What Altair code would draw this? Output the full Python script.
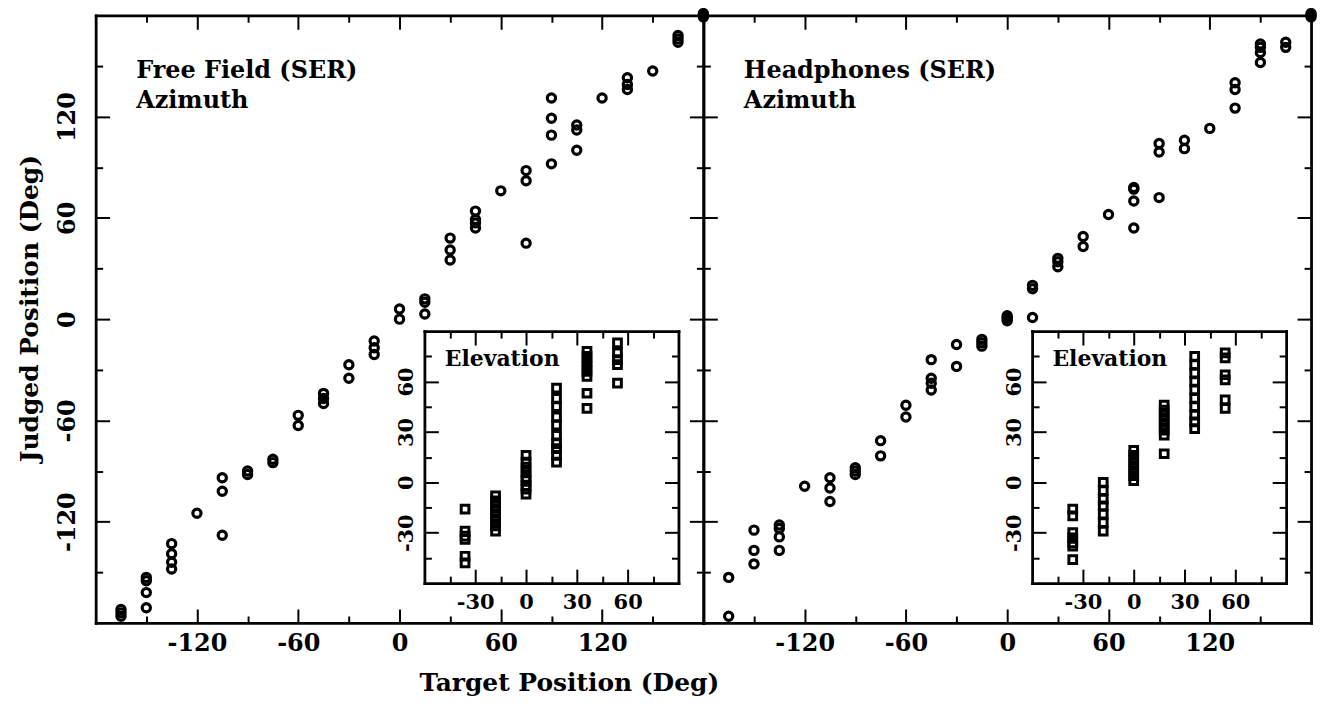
import altair as alt
import pandas as pd

# ---------------- data ----------------
FF_AZ_TARGET = [-165, -150, -135, -120, -105, -90, -75, -60, -45, -30, -15, 0,
                15, 30, 45, 60, 75, 90, 105, 120, 135, 150, 165, 180]
FF_AZ_JUDGED = [[-172, -174, -176], [-153, -155, -162, -171], [-133, -139, -144, -148],
                [-115], [-94, -102, -128], [-90, -92], [-83, -85], [-57, -63],
                [-44, -47, -50], [-27, -35], [-13, -17, -21], [0, 6],
                [3, 10, 12], [35, 41, 48], [54, 57, 59, 64], [76], [45, 82, 88],
                [92, 109, 119, 131], [100, 112, 115], [131], [136, 139, 143], [147],
                [164, 166, 168], [179, 180, 181]]

HP_AZ_TARGET = [-165, -150, -135, -120, -105, -90, -75, -60, -45, -30, -15, 0,
                15, 30, 45, 60, 75, 90, 105, 120, 135, 150, 165, 180]
HP_AZ_JUDGED = [[-153, -176], [-125, -137, -145], [-122, -124, -129, -137], [-99],
                [-94, -100, -108], [-88, -90, -92], [-72, -81], [-51, -58],
                [-24, -35, -38, -42], [-15, -28], [-12, -14, -16], [-1, 0, 1, 2],
                [1, 18, 20], [31, 34, 36], [43, 49], [62], [54, 70, 77, 78],
                [72, 99, 104], [101, 106], [113], [125, 136, 140],
                [152, 158, 161, 163], [161, 164], [179, 180, 181]]

EL_TARGET = [-36, -18, 0, 18, 36, 54]
FF_EL_JUDGED = [[-16, -29, -32, -34, -44, -48],
                [-8, -11, -14, -17, -20, -23, -26, -29],
                [16, 12, 9, 6, 3, 1, -2, -4, -7],
                [56, 50, 45, 39, 34, 28, 23, 20, 16, 12],
                [78, 75, 72, 69, 66, 63, 53, 44],
                [83, 77, 73, 70, 59]]
HP_EL_JUDGED = [[-16, -20, -30, -33, -36, -38, -46],
                [0, -5, -10, -14, -19, -24, -29],
                [19, 16, 13, 10, 7, 4, 1],
                [46, 43, 40, 37, 34, 31, 28, 17],
                [75, 70, 65, 60, 55, 50, 45, 40, 36, 32],
                [77, 74, 64, 61, 49, 44]]

MAIN_MAJOR = [-120, -60, 0, 60, 120]
MAIN_MINOR = [-150, -90, -30, 30, 90, 150]
INSET_MAJOR = [-30, 0, 30, 60]
INSET_MINOR = [-45, -15, 15, 45, 75]

FF_LABEL = ["Free Field (SER)", "Azimuth"]
HP_LABEL = ["Headphones (SER)", "Azimuth"]
EL_LABEL = "Elevation"
X_TITLE = "Target Position (Deg)"
Y_TITLE = "Judged Position (Deg)"

# ---------------- layout / style ----------------
FONT = "DejaVu Serif"
W = H = 610
MAIN_DOM = [-180, 180]
INS_DOM = [-60, 90]
INS_XR = [330, 585]
INS_YR = [570, 317]
MAJ, MIN = 14, 7
HYPHEN = "(datum.value < 0 ? '-' : '') + abs(datum.value)"


def frame(targets, judged):
    return pd.DataFrame([{"t": t, "j": j} for t, js in zip(targets, judged) for j in js])


BASE_AX = dict(grid=False, tickColor="black", tickWidth=2, domainColor="black",
               domainWidth=2.8, domainCap="square", labelFont=FONT,
               labelFontWeight="bold", labelColor="black", labelOverlap=False,
               labelFlush=False, labelExpr=HYPHEN)


def ax(orient, values, tick, domain=False, labels=False, offset=0, title=None, **kw):
    d = dict(BASE_AX)
    d.update(orient=orient, values=values, tickSize={"expr": str(-tick)},
             domain=domain, labels=labels, offset=offset, title=title)
    d.update(kw)
    return alt.Axis(**d)


def scale(dom, rng=None):
    if rng is None:
        return alt.Scale(domain=dom, nice=False, zero=False)
    return alt.Scale(domain=dom, nice=False, zero=False, range=rng)


def box(df, dom, xr, yr, offs, mark, xlab, ylab):
    """four layers: points+major ticks (bottom/left), minor ticks, mirrored major, mirrored minor"""
    ob, ol, ot, orr = offs
    major, minor = (MAIN_MAJOR, MAIN_MINOR) if dom == MAIN_DOM else (INSET_MAJOR, INSET_MINOR)
    specs = [
        (ax("bottom", major, MAJ, True, xlab is not None, ob, **(xlab or {})),
         ax("left", major, MAJ, True, ylab is not None, ol, **(ylab or {})), 1),
        (ax("bottom", minor, MIN, False, False, ob), ax("left", minor, MIN, False, False, ol), 0),
        (ax("top", major, MAJ, True, False, ot), ax("right", major, MAJ, True, False, orr), 0),
        (ax("top", minor, MIN, False, False, ot), ax("right", minor, MIN, False, False, orr), 0),
    ]
    out = []
    for xa, ya, op in specs:
        out.append(
            alt.Chart(df).mark_point(opacity=op, **mark).encode(
                x=alt.X("t:Q", scale=scale(dom, xr), axis=xa),
                y=alt.Y("j:Q", scale=scale(dom, yr), axis=ya),
            )
        )
    return out


def text_layer(lines, xv, yv, dom, xr, yr, size):
    return alt.Chart(alt.Data(values=[{}])).mark_text(
        align="left", baseline="alphabetic", font=FONT, fontWeight="bold",
        fontSize=size, lineHeight=30, color="black"
    ).encode(
        x=alt.XDatum(xv, type="quantitative", scale=scale(dom, xr), axis=None),
        y=alt.YDatum(yv, type="quantitative", scale=scale(dom, yr), axis=None),
        text=alt.value(lines),
    )


CIRCLE = dict(shape="circle", filled=False, color="black", size=68, strokeWidth=3.2)
SQUARE = dict(shape="square", filled=False, color="black", size=60, strokeWidth=3)

MAIN_XLAB = dict(labelFontSize=24, labelPadding=MAJ + 9, labelBaseline="top")
INS_XLAB = dict(labelFontSize=21, labelPadding=MAJ + 8, labelBaseline="top")
INS_YLAB = dict(labelFontSize=21, labelPadding=MAJ + 8, labelAngle=270,
                labelAlign="center", labelBaseline="bottom")


def panel(az_df, el_df, lab, first):
    xlab = dict(MAIN_XLAB)
    ylab = None
    if first:
        xlab.update(title=X_TITLE, titleFont=FONT, titleFontSize=25, titleFontWeight="bold",
                    titleColor="black", titleX=475, titleY=68, titleAlign="center",
                    titleBaseline="alphabetic")
        ylab = dict(labelFontSize=24, labelPadding=MAJ + 16, labelAngle=270,
                    labelAlign="center", labelBaseline="bottom",
                    title=Y_TITLE, titleFont=FONT, titleFontSize=25,
                    titleFontWeight="bold", titleColor="black", titleX=-66, titleY=294,
                    titleAngle=270, titleAlign="center", titleBaseline="middle")
    layers = box(az_df, MAIN_DOM, None, None, (0, 0, 0, 0), CIRCLE, xlab, ylab)
    layers += box(el_df, INS_DOM, INS_XR, INS_YR,
                  (INS_YR[0] - H, -INS_XR[0], -INS_YR[1], INS_XR[1] - W),
                  SQUARE, INS_XLAB, INS_YLAB)
    layers.append(text_layer(lab, -156, 143, MAIN_DOM, None, None, 24))
    layers.append(text_layer(EL_LABEL, -48, 69, INS_DOM, INS_XR, INS_YR, 22))
    return alt.layer(*layers).resolve_scale(x="independent", y="independent").properties(
        width=W, height=H)


left = panel(frame(FF_AZ_TARGET, FF_AZ_JUDGED), frame(EL_TARGET, FF_EL_JUDGED), FF_LABEL, True)
right = panel(frame(HP_AZ_TARGET, HP_AZ_JUDGED), frame(EL_TARGET, HP_EL_JUDGED), HP_LABEL, False)

chart = alt.hconcat(left, right, spacing=0, bounds="flush").configure_view(
    stroke=None).properties(
    padding={"left": 10, "top": -7, "right": 0, "bottom": 0}, background="white")

chart.save("out.html", embed_options={"renderer": "svg", "actions": False})
